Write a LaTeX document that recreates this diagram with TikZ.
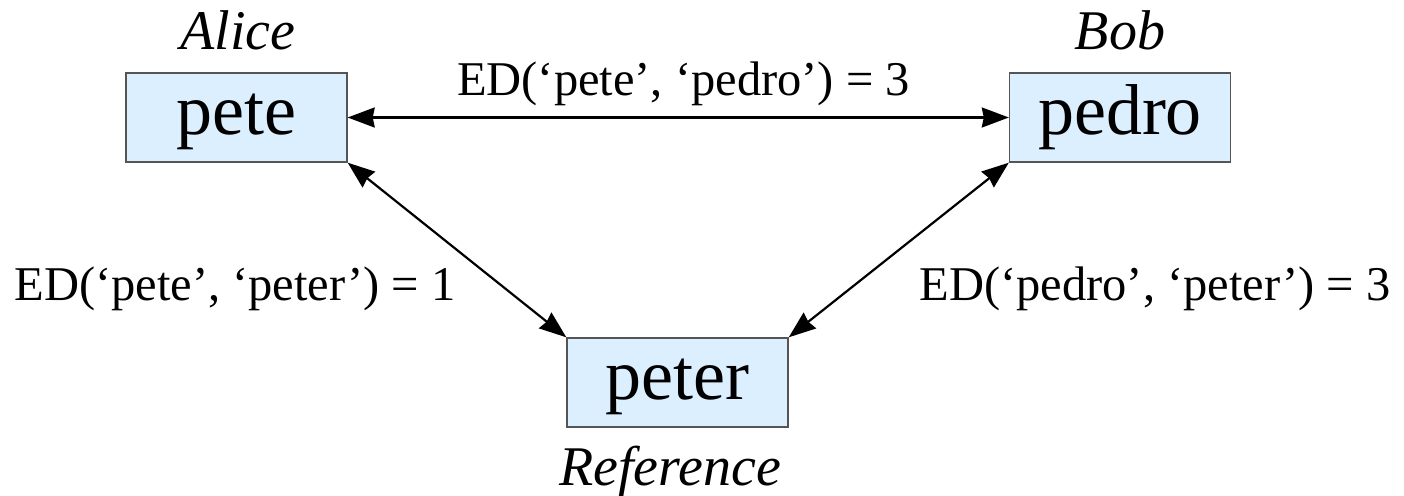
\documentclass[tikz,border=0pt]{standalone}
\usepackage{fontspec}
\setmainfont{Liberation Serif}
\usetikzlibrary{arrows.meta}
\definecolor{boxfill}{HTML}{DCEFFF}
\definecolor{boxline}{HTML}{555555}
\begin{document}
\begin{tikzpicture}[x=1pt,y=-1pt,
  wordbox/.style={draw=boxline,fill=boxfill,line width=1.4pt,inner sep=0pt,
    minimum width=221pt,minimum height=89pt,text height=48pt,text depth=14pt,
    font=\fontsize{72}{80}\selectfont},
  role/.style={anchor=base,font=\fontsize{56}{64}\selectfont\itshape},
  dist/.style={anchor=base,font=\fontsize{48.5}{56}\selectfont},
  link/.style={line width=2.2pt,
    {Stealth[length=27pt,width=20pt,inset=2pt]}-{Stealth[length=27pt,width=20pt,inset=2pt]}}]
\useasboundingbox (0,0) rectangle (1404,495);
% the three strings
\node[wordbox] (pete)  at (236.5,117.5) {pete};
\node[wordbox] (pedro) at (1120,117.5) {pedro};
\node[wordbox] (peter) at (677.5,382.5) {peter};
% who holds each string
\node[role] (alice) at (238,50) {Alice};
\node[role] (bob) at (1120,50) {Bob};
\node[role] (ref) at (670,485) {Reference};
% edit distances
\draw[link] (pete.east) -- (pedro.west);
\draw[link] (pete.south east) -- (peter.north west);
\draw[link] (pedro.south west) -- (peter.north east);
\node[dist] (d1) at (683.5,95) {ED(‘pete’, ‘pedro’) = 3};
\node[dist] (d2) at (235,300) {ED(‘pete’, ‘peter’) = 1};
\node[dist] (d3) at (1155,300) {ED(‘pedro’, ‘peter’) = 3};
\end{tikzpicture}
\end{document}
